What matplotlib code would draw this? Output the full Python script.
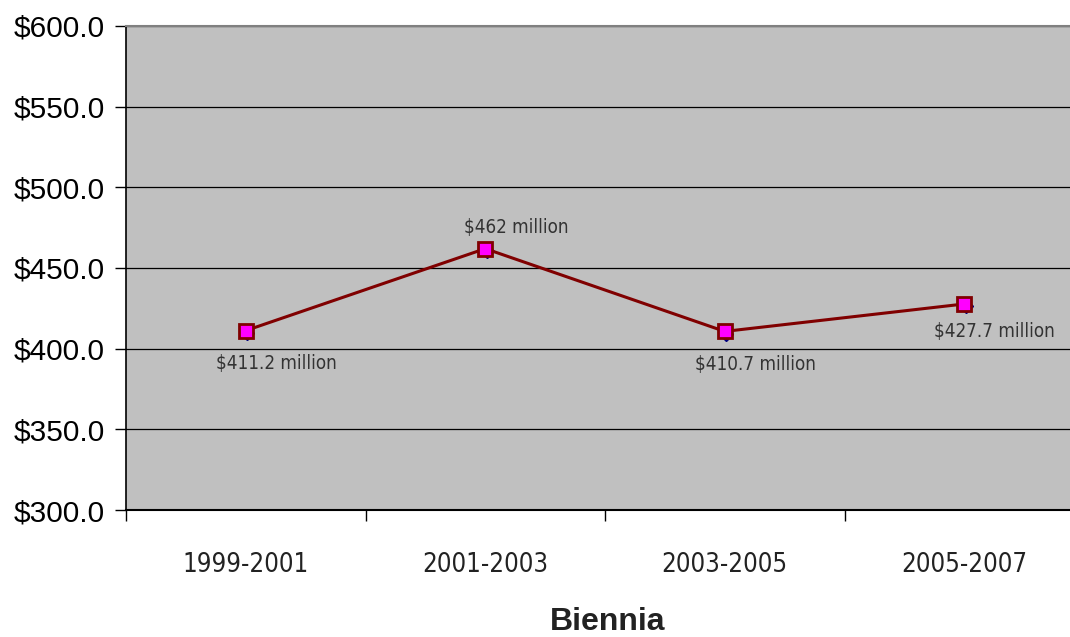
import matplotlib.pyplot as plt
import numpy as np

biennia = ['1999-2001', '2001-2003', '2003-2005', '2005-2007']
spending = [411.2, 462.0, 410.7, 427.7]
# hidden series drawn underneath (peeks out as blue diamonds)
spending_under = [410.0, 460.8, 409.4, 426.6]
labels = ['$411.2 million', '$462 million', '$410.7 million', '$427.7 million']
label_offsets = [(22, -24), (22, 15), (22, -24), (22, -20)]

narrow = dict(family='DejaVu Sans', fontstretch='condensed')

fig = plt.figure(figsize=(10.70, 6.37), dpi=100)
ax = fig.add_axes([126 / 1070, 127 / 637, 958 / 1070, 484 / 637])
ax.set_facecolor('#c0c0c0')

x = np.arange(len(biennia))
ax.plot(x + 0.006, spending_under, color='#000080', marker='D', markersize=7,
        linestyle='none', zorder=3)
ax.plot(x, spending, color='#800000', linewidth=2.2, marker='s', markersize=10,
        markerfacecolor='#ff00ff', markeredgecolor='#800000', markeredgewidth=2, zorder=4)

for xi, v, t, off in zip(x, spending, labels, label_offsets):
    ax.annotate(t, (xi, v), xytext=off, textcoords='offset points', ha='center', va='center',
                fontsize=13.5, color='#333333', **narrow)

ax.set_xlim(-0.5, 3.5)
ax.set_ylim(300, 600)
ax.set_yticks(np.arange(300, 601, 50))
ax.set_yticklabels(['$%.1f' % v for v in np.arange(300, 601, 50)],
                   fontsize=21.5, family=['Liberation Sans', 'DejaVu Sans'])
ax.yaxis.grid(True, color='black', linewidth=0.9)
ax.set_axisbelow(True)

ax.set_xticks(np.arange(-0.5, 3.6, 1))
ax.set_xticklabels([])
ax.set_xticks(x, minor=True)
ax.set_xticklabels(biennia, minor=True, fontsize=18.5, color='#222222', **narrow)
ax.tick_params(axis='x', which='minor', length=0, pad=30)
ax.tick_params(axis='x', which='major', length=8, width=1, direction='out')
ax.tick_params(axis='y', length=8, width=1, direction='out', pad=7)

ax.spines['top'].set_color('#808080')
ax.spines['top'].set_linewidth(1.5)
ax.spines['right'].set_visible(False)
ax.spines['left'].set_linewidth(1.2)
ax.spines['bottom'].set_linewidth(1.5)

fig.text(608 / 1070, 1 - 622 / 637, 'Biennia', ha='center', va='center', fontsize=23,
         fontweight='bold', family=['Liberation Sans', 'DejaVu Sans'], color='#222222')

fig.savefig('out.png', dpi=100)
